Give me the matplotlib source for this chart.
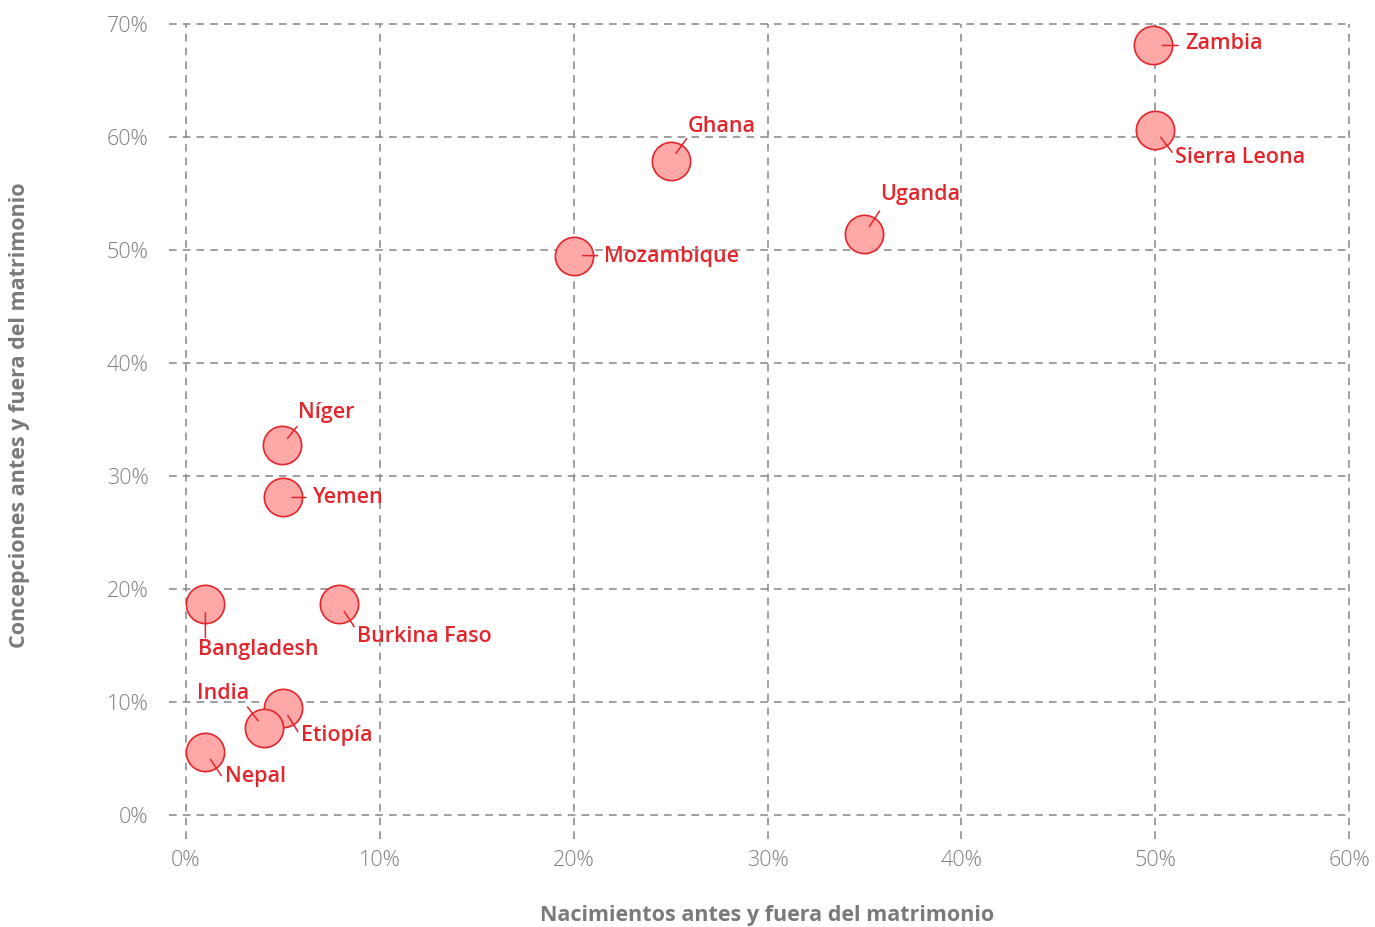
import matplotlib.pyplot as plt
from matplotlib.ticker import PercentFormatter

# data (fractions)
countries = ["Zambia", "Sierra Leona", "Ghana", "Uganda", "Mozambique", "Níger",
             "Yemen", "Bangladesh", "Burkina Faso", "Etiopía", "India", "Nepal"]
births = [0.499, 0.500, 0.250, 0.350, 0.200, 0.0495,
          0.050, 0.010, 0.079, 0.050, 0.040, 0.010]
conceptions = [0.681, 0.606, 0.579, 0.514, 0.495, 0.327,
               0.281, 0.187, 0.187, 0.095, 0.077, 0.056]

# label placement (offset pixels from point): label pos, leader end, alignment
label_off = {
    "Zambia": ((32, 2), (25, 0), "left"),
    "Sierra Leona": ((20, -27), (17, -22), "left"),
    "Ghana": ((17, 34), (16, 22), "left"),
    "Uganda": ((16, 40), (15, 23), "left"),
    "Mozambique": ((30, -1), (24, 0), "left"),
    "Níger": ((16, 33), (15, 19), "left"),
    "Yemen": ((30, 0), (23, 0), "left"),
    "Bangladesh": ((-7, -46), (0, -34), "left"),
    "Burkina Faso": ((18, -33), (15, -23), "left"),
    "Etiopía": ((18, -28), (15, -24), "left"),
    "India": ((-14, 34), (-16, 21), "right"),
    "Nepal": ((20, -25), (16, -24), "left"),
}

xticks = [0, 0.1, 0.2, 0.3, 0.4, 0.5, 0.6]
yticks = [0, 0.1, 0.2, 0.3, 0.4, 0.5, 0.6, 0.7]

plt.rcParams['font.family'] = ['Open Sans', 'DejaVu Sans']
red = "#e3262b"
fill = "#ffa8a8"
grey = "#7a7a7a"

fig = plt.figure(figsize=(13.75, 9.27), dpi=100)
ax = fig.add_axes([186 / 1375, 1 - 815 / 927, (1349 - 186) / 1375, (815 - 24) / 927])
ax.set_xlim(0, 0.6)
ax.set_ylim(0, 0.7)

for x in xticks:
    ax.axvline(x, ymin=-0.03, ymax=1, color="#858585", lw=1.1, ls=(0, (5, 4)),
               clip_on=False, zorder=1)
for y in yticks:
    ax.axhline(y, xmin=-0.015, xmax=1, color="#858585", lw=1.1, ls=(0, (5, 4)),
               clip_on=False, zorder=1)

ax.scatter(births, conceptions, s=760, facecolor=fill, edgecolor=red, lw=1.2, zorder=3)

for name, bx, cy in zip(countries, births, conceptions):
    (tx, ty), (ex, ey), ha = label_off[name]
    ax.annotate("", xy=(bx, cy), xytext=(ex, ey), textcoords="offset pixels",
                arrowprops=dict(arrowstyle="-", color=red, lw=1.1,
                                shrinkA=0, shrinkB=6.5), zorder=4)
    ax.annotate(name, xy=(bx, cy), xytext=(tx, ty), textcoords="offset pixels",
                ha=ha, va="center", color=red, fontsize=15.5, fontweight="semibold",
                zorder=5)

for s in ax.spines.values():
    s.set_visible(False)
ax.set_xticks(xticks)
ax.set_yticks(yticks)
ax.xaxis.set_major_formatter(PercentFormatter(1.0, decimals=0))
ax.yaxis.set_major_formatter(PercentFormatter(1.0, decimals=0))
ax.tick_params(length=0, labelsize=15.5, labelcolor="#808080")
for lab in ax.get_xticklabels() + ax.get_yticklabels():
    lab.set_fontweight("light")
ax.tick_params(axis="x", pad=25)
ax.tick_params(axis="y", pad=27)

fig.text((186 + 1349) / 2 / 1375, 1 - 916 / 927, "Nacimientos antes y fuera del matrimonio",
         ha="center", va="center", fontsize=15.5, fontweight="bold", color=grey)
fig.text(20 / 1375, 1 - 415 / 927, "Concepciones antes y fuera del matrimonio",
         ha="center", va="center", rotation=90, fontsize=15.5, fontweight="bold", color=grey)

fig.savefig("out.png", dpi=100)
